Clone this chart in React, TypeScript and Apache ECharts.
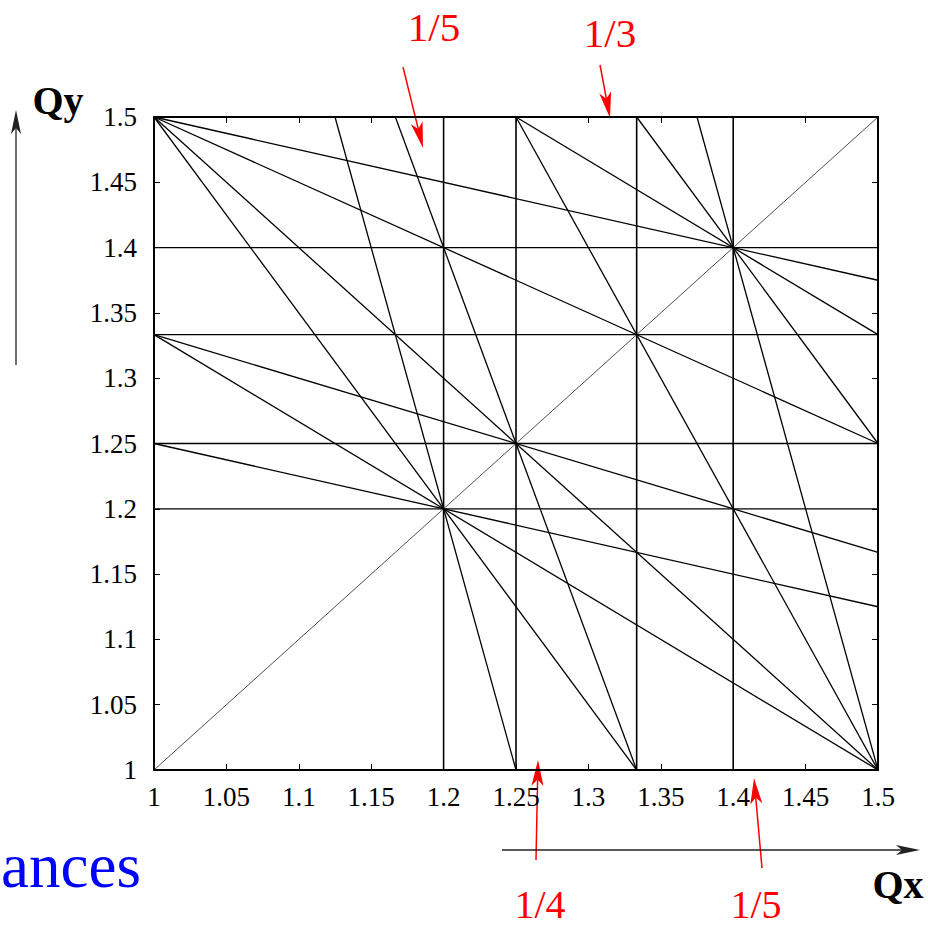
import React, { useEffect, useRef } from "react";
import * as echarts from "echarts";

// Tune space shown: Qx, Qy in [1, 1.5]
const QMIN = 1;
const QMAX = 1.5;
const TICK_STEP = 0.05;

// Resonance lines m*Qx + n*Qy = p (sum resonances up to 5th order)
const verticalLines: [number, number, number][] = [
  [3, 0, 4],
  [4, 0, 5],
  [5, 0, 6],
  [5, 0, 7],
];
const horizontalLines: [number, number, number][] = [
  [0, 3, 4],
  [0, 4, 5],
  [0, 5, 6],
  [0, 5, 7],
];
const sumLines: [number, number, number][] = [
  [1, 2, 4],
  [2, 1, 4],
  [2, 2, 5],
  [1, 3, 5],
  [3, 1, 5],
  [1, 4, 6],
  [4, 1, 6],
  [1, 4, 7],
  [4, 1, 7],
  [2, 3, 6],
  [3, 2, 6],
  [2, 3, 7],
  [3, 2, 7],
];
// Coupling line Qx - Qy = 0
const diagonalLines: [number, number, number][] = [[1, -1, 0]];

const fmt = (v: number) => String(parseFloat(v.toFixed(2)));

// End points of m*x + n*y = p inside the square
function clipLine(m: number, n: number, p: number): number[][] {
  const eps = 1e-9;
  const pts: number[][] = [];
  const inside = (v: number) => v >= QMIN - eps && v <= QMAX + eps;
  if (n !== 0) {
    for (const x of [QMIN, QMAX]) {
      const y = (p - m * x) / n;
      if (inside(y)) pts.push([x, y]);
    }
  }
  if (m !== 0) {
    for (const y of [QMIN, QMAX]) {
      const x = (p - n * y) / m;
      if (inside(x)) pts.push([x, y]);
    }
  }
  let best: number[][] = [];
  let bestD = -1;
  for (let i = 0; i < pts.length; i++) {
    for (let j = i + 1; j < pts.length; j++) {
      const d = Math.hypot(pts[i][0] - pts[j][0], pts[i][1] - pts[j][1]);
      if (d > bestD) {
        bestD = d;
        best = [pts[i], pts[j]];
      }
    }
  }
  return best;
}

function lineSeries(defs: [number, number, number][], width: number, color: string) {
  return defs
    .map(([m, n, p]) => clipLine(m, n, p))
    .filter((d) => d.length === 2)
    .map((d) => ({
      type: "line",
      data: d,
      showSymbol: false,
      symbol: "none",
      silent: true,
      lineStyle: { color, width },
      xAxisIndex: 0,
      yAxisIndex: 0,
    }));
}

// Arrow with a notched head, pointing from (x1,y1) to (x2,y2)
function arrow(
  x1: number,
  y1: number,
  x2: number,
  y2: number,
  color: string,
  width: number,
  headLen: number,
  headHalf: number
) {
  const dx = x2 - x1;
  const dy = y2 - y1;
  const len = Math.hypot(dx, dy);
  const ux = dx / len;
  const uy = dy / len;
  const px = -uy;
  const py = ux;
  const bx = x2 - ux * headLen;
  const by = y2 - uy * headLen;
  const nx = x2 - ux * headLen * 0.75;
  const ny = y2 - uy * headLen * 0.75;
  return [
    {
      type: "line",
      silent: true,
      shape: { x1, y1, x2: nx, y2: ny },
      style: { stroke: color, lineWidth: width },
    },
    {
      type: "polygon",
      silent: true,
      shape: {
        points: [
          [x2, y2],
          [bx + px * headHalf, by + py * headHalf],
          [nx, ny],
          [bx - px * headHalf, by - py * headHalf],
        ],
      },
      style: { fill: color },
    },
  ];
}

const SERIF = "'Liberation Serif', 'Times New Roman', serif";

export default function App() {
  const ref = useRef<HTMLDivElement>(null);

  useEffect(() => {
    if (!ref.current) return;
    const chart = echarts.init(ref.current, undefined, { renderer: "svg" });

    const axisCommon = {
      type: "value",
      min: QMIN,
      max: QMAX,
      interval: TICK_STEP,
      splitLine: { show: false },
      axisLine: { show: true, onZero: false, lineStyle: { color: "#000", width: 2 } },
      axisTick: { show: true, inside: true, length: 6, lineStyle: { color: "#000", width: 1 } },
    };

    const red = "#ff0000";
    const dark = "#222";

    const graphics: any[] = [
      ...arrow(403, 67, 423, 148, red, 1.5, 26, 6),
      ...arrow(600, 65, 610, 118, red, 1.5, 26, 6),
      ...arrow(536, 860, 538, 760, red, 1.5, 26, 6),
      ...arrow(762, 868, 754, 778, red, 1.5, 26, 6),
      ...arrow(16, 365, 16, 110, dark, 1.3, 24, 5),
      ...arrow(502, 850, 920, 850, dark, 1.3, 24, 5),
      {
        type: "text",
        silent: true,
        style: { text: "1/5", x: 434, y: 27, fill: red, font: `41px ${SERIF}`, textAlign: "center", textVerticalAlign: "middle" },
      },
      {
        type: "text",
        silent: true,
        style: { text: "1/3", x: 610, y: 33, fill: red, font: `41px ${SERIF}`, textAlign: "center", textVerticalAlign: "middle" },
      },
      {
        type: "text",
        silent: true,
        style: { text: "1/4", x: 540, y: 904, fill: red, font: `40px ${SERIF}`, textAlign: "center", textVerticalAlign: "middle" },
      },
      {
        type: "text",
        silent: true,
        style: { text: "1/5", x: 756, y: 904, fill: red, font: `40px ${SERIF}`, textAlign: "center", textVerticalAlign: "middle" },
      },
      {
        type: "text",
        silent: true,
        style: { text: "Qy", x: 58, y: 100, fill: "#000", font: `bold 40px ${SERIF}`, textAlign: "center", textVerticalAlign: "middle" },
      },
      {
        type: "text",
        silent: true,
        style: { text: "Qx", x: 898, y: 884, fill: "#000", font: `bold 40px ${SERIF}`, textAlign: "center", textVerticalAlign: "middle" },
      },
      {
        type: "text",
        silent: true,
        style: { text: "ances", x: 1, y: 866, fill: "#0000ff", font: `63px ${SERIF}`, textAlign: "left", textVerticalAlign: "middle" },
      },
    ];

    const labelStyle = {
      show: true,
      color: "#000",
      fontFamily: SERIF,
      fontSize: 27,
      formatter: (v: number) => fmt(v),
    };

    chart.setOption({
      animation: false,
      backgroundColor: "#fff",
      grid: { left: 154, top: 117, width: 724, height: 653, containLabel: false },
      xAxis: [
        { ...axisCommon, position: "bottom", axisLabel: { ...labelStyle, margin: 13 } },
        { ...axisCommon, position: "top", axisLabel: { show: false } },
      ],
      yAxis: [
        { ...axisCommon, position: "left", axisLabel: { ...labelStyle, margin: 17 } },
        { ...axisCommon, position: "right", axisLabel: { show: false } },
      ],
      series: [
        ...lineSeries(diagonalLines, 0.8, "#222"),
        ...lineSeries(verticalLines, 1.6, "#000"),
        ...lineSeries(horizontalLines, 1.3, "#000"),
        ...lineSeries(sumLines, 1.3, "#000"),
      ],
      graphic: graphics,
    });

    return () => chart.dispose();
  }, []);

  return (
    <div
      ref={ref}
      style={{ position: "fixed", left: 0, top: 0, width: 928, height: 926, background: "#fff" }}
    />
  );
}
